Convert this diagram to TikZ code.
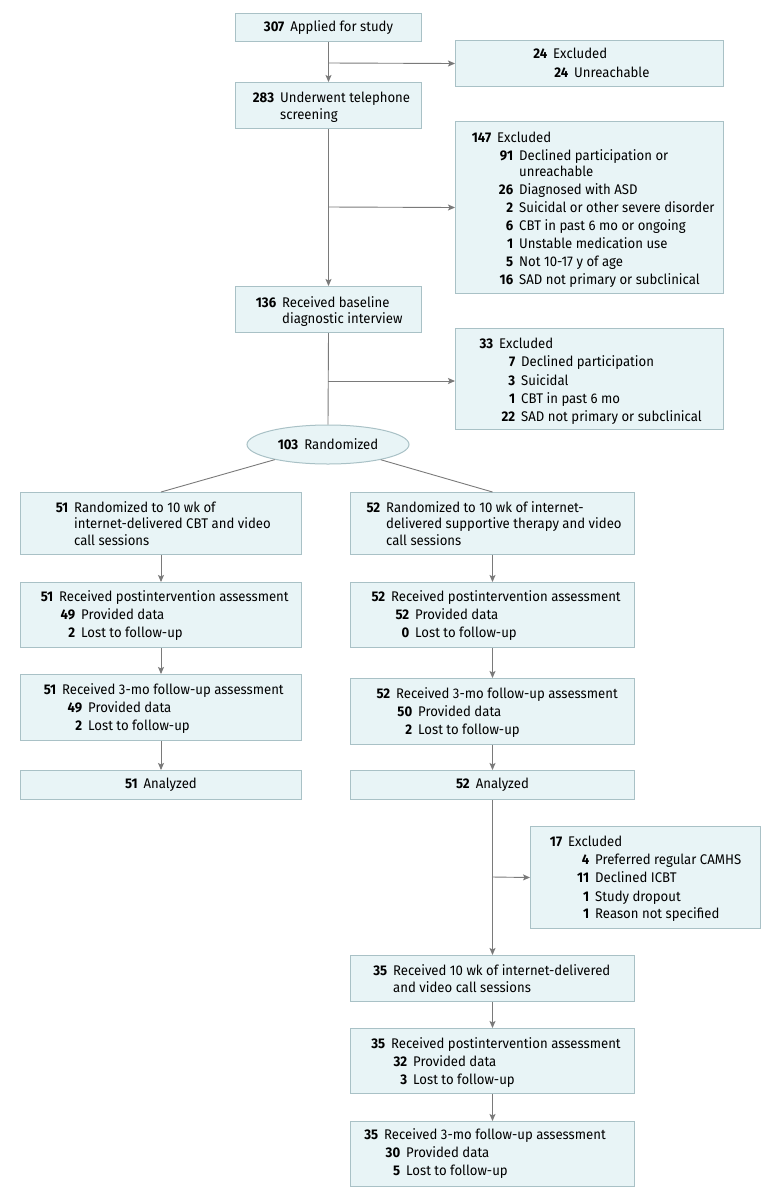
\documentclass[tikz,border=0pt]{standalone}
\usepackage{fontspec}
\setmainfont{Fira Sans}[FakeStretch=0.94]
\usetikzlibrary{arrows.meta,shapes.geometric}
\definecolor{boxfill}{HTML}{E8F4F6}
\definecolor{boxline}{HTML}{A9C1C6}
\definecolor{arr}{HTML}{7A7A7A}
\tikzset{
  box/.style={draw=boxline, fill=boxfill, line width=1pt, inner sep=0pt, rectangle, anchor=north west, font=\fontsize{14}{17}\selectfont},
  txt/.style={anchor=base west, inner sep=0pt, font=\fontsize{14}{17}\selectfont},
  conn/.style={draw=arr, line width=0.9pt},
  arrow/.style={conn, -{Stealth[length=7pt,width=6pt,inset=1.5pt]}},
}
\newcounter{flc}
\newcommand\fl[4]{\stepcounter{flc}\node[txt] (t\arabic{flc}) at (#1,#2+5) {\llap{\textbf{#3}\hspace{6pt}}#4};}
\newcommand\bx[6]{\node[box, minimum width=#4pt, minimum height=#5pt] (#1) at (#2,#3) {#6};}
\begin{document}
\begin{tikzpicture}[x=1pt,y=-1pt]
\useasboundingbox[fill=white] (0,0) rectangle (780,1200);
% boxes
\bx{A}{235}{13}{186}{28}{\textbf{307}\hspace{6pt}Applied for study}
\bx{E1}{455}{40}{268}{46}{}
\bx{B}{235}{82}{186}{46}{}
\bx{E2}{455}{121}{268}{172}{}
\bx{C}{235}{286}{186}{46}{}
\bx{E3}{455}{328}{268}{101}{}
\node[ellipse, draw=boxline, fill=boxfill, line width=1pt, inner sep=0pt, minimum width=162pt, minimum height=39pt, font=\fontsize{14}{17}\selectfont] (R) at (328,444.5) {\textbf{103}\hspace{6pt}Randomized};
\bx{R1}{20}{492}{281}{62}{}
\bx{R2}{350}{492}{284}{62}{}
\bx{L2}{20}{582}{281}{65}{}
\bx{R3}{350}{582}{284}{65}{}
\bx{L3}{20}{674}{281}{66}{}
\bx{R4}{350}{678}{284}{66}{}
\bx{L4}{20}{770}{281}{29}{\textbf{51}\hspace{6pt}Analyzed}
\bx{R5}{350}{770}{284}{29}{\textbf{52}\hspace{6pt}Analyzed}
\bx{E4}{530}{826}{230}{102}{}
\bx{D1}{350}{955}{284}{46}{}
\bx{D2}{350}{1028}{284}{65}{}
\bx{D3}{350}{1121}{284}{65}{}
% junctions
\coordinate (j1) at (328,63);
\coordinate (j2) at (328,207);
\coordinate (j3) at (328,381);
\coordinate (j4) at (492,877);
% connectors
\draw[arrow] (A.south) -- (B.north);
\draw[arrow] (j1) -- (E1.west);
\draw[arrow] (B.south) -- (C.north);
\draw[arrow] (j2) -- (E2.west);
\draw[conn] (C.south) -- (R.north);
\draw[arrow] (j3) -- (j3 -| E3.west);
\draw[conn] (R) -- (R1.north);
\draw[conn] (R) -- (R2.north);
\draw[arrow] (R1.south) -- (L2.north);
\draw[arrow] (L2.south) -- (L3.north);
\draw[arrow] (L3.south) -- (L4.north);
\draw[arrow] (R2.south) -- (R3.north);
\draw[arrow] (R3.south) -- (R4.north);
\draw[arrow] (R4.south) -- (R5.north);
\draw[arrow] (R5.south) -- (D1.north);
\draw[arrow] (j4) -- (E4.west);
\draw[arrow] (D1.south) -- (D2.north);
\draw[arrow] (D2.south) -- (D3.north);
% texts
\fl{553}{53}{24}{Excluded}
\fl{574}{72}{24}{Unreachable}
\fl{280}{97}{283}{Underwent telephone}
\fl{280}{114}{}{screening}
\fl{497}{137}{147}{Excluded}
\fl{519}{155}{91}{Declined participation or}
\fl{519}{171}{}{unreachable}
\fl{519}{189}{26}{Diagnosed with ASD}
\fl{519}{207}{2}{Suicidal or other severe disorder}
\fl{519}{225}{6}{CBT in past 6 mo or ongoing}
\fl{519}{243}{1}{Unstable medication use}
\fl{519}{261}{5}{Not 10-17 y of age}
\fl{519}{279}{16}{SAD not primary or subclinical}
\fl{282}{302}{136}{Received baseline}
\fl{282}{318}{}{diagnostic interview}
\fl{499}{343}{33}{Excluded}
\fl{521}{361}{7}{Declined participation}
\fl{521}{380}{3}{Suicidal}
\fl{521}{398}{1}{CBT in past 6 mo}
\fl{521}{416}{22}{SAD not primary or subclinical}
\fl{74}{507}{51}{Randomized to 10 wk of}
\fl{74}{523}{}{internet-delivered CBT and video}
\fl{74}{540}{}{call sessions}
\fl{386}{507}{52}{Randomized to 10 wk of internet-}
\fl{386}{523}{}{delivered supportive therapy and video}
\fl{386}{540}{}{call sessions}
\fl{59}{596}{51}{Received postintervention assessment}
\fl{81}{614}{49}{Provided data}
\fl{81}{632}{2}{Lost to follow-up}
\fl{391}{596}{52}{Received postintervention assessment}
\fl{415}{614}{52}{Provided data}
\fl{415}{632}{0}{Lost to follow-up}
\fl{62}{689}{51}{Received 3-mo follow-up assessment}
\fl{88}{707}{49}{Provided data}
\fl{88}{725}{2}{Lost to follow-up}
\fl{396}{693}{52}{Received 3-mo follow-up assessment}
\fl{418}{711}{50}{Provided data}
\fl{418}{729}{2}{Lost to follow-up}
\fl{568}{841}{17}{Excluded}
\fl{595}{859}{4}{Preferred regular CAMHS}
\fl{595}{877}{11}{Declined ICBT}
\fl{595}{896}{1}{Study dropout}
\fl{595}{913}{1}{Reason not specified}
\fl{393}{970}{35}{Received 10 wk of internet-delivered}
\fl{393}{987}{}{and video call sessions}
\fl{391}{1043}{35}{Received postintervention assessment}
\fl{413}{1061}{32}{Provided data}
\fl{413}{1079}{3}{Lost to follow-up}
\fl{384}{1134}{35}{Received 3-mo follow-up assessment}
\fl{406}{1152}{30}{Provided data}
\fl{406}{1170}{5}{Lost to follow-up}
\end{tikzpicture}
\end{document}
